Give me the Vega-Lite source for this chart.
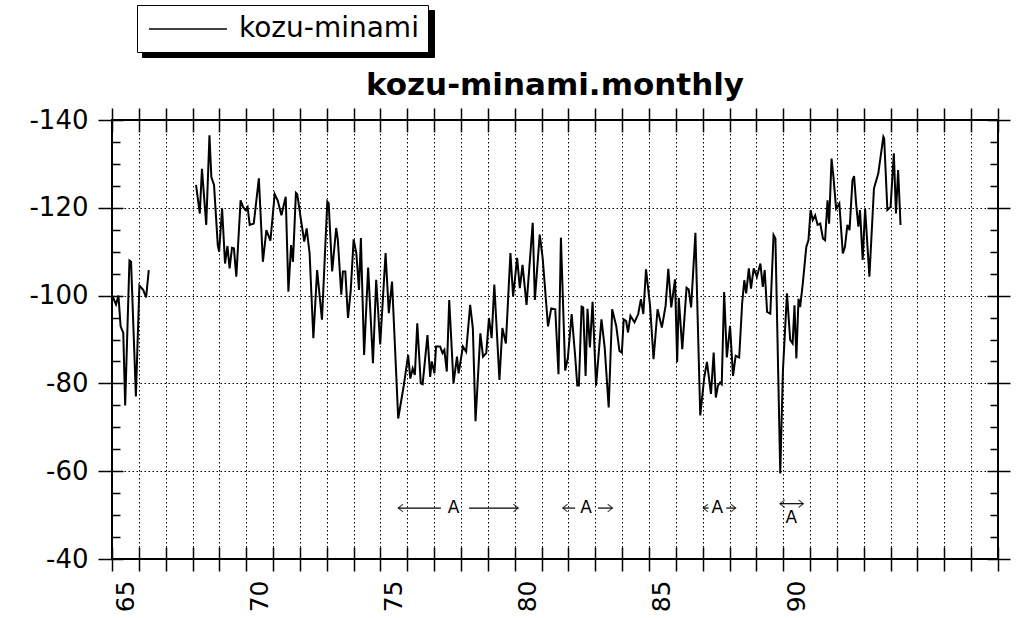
{
  "$schema": "https://vega.github.io/schema/vega-lite/v6.json",
  "width": 886,
  "height": 439,
  "autosize": {"type": "none"},
  "padding": {"left": 112, "top": 120, "right": 18, "bottom": 59},
  "background": "white",
  "title": {"text": "kozu-minami.monthly", "anchor": "middle", "font": "DejaVu Sans", "fontSize": 31, "fontWeight": "bold", "color": "black", "offset": 6, "dy": 103},
  "config": {
    "view": {"stroke": "black", "strokeWidth": 2},
    "axis": {"tickColor": "black", "tickWidth": 1.5, "domain": false, "title": null, "labelColor": "black", "gridColor": "black", "gridOpacity": 1, "gridWidth": 1, "gridDash": [1.5, 2.5]}
  },
  "datasets": {
    "series": [
      {"t": 1965.01, "v": -100.0, "seg": 1}, {"t": 1965.15, "v": -98.0, "seg": 1}, {"t": 1965.24, "v": -100.0, "seg": 1},
      {"t": 1965.32, "v": -93.0, "seg": 1}, {"t": 1965.42, "v": -91.5, "seg": 1}, {"t": 1965.49, "v": -75.0, "seg": 1},
      {"t": 1965.65, "v": -108.0, "seg": 1}, {"t": 1965.71, "v": -107.7, "seg": 1}, {"t": 1965.89, "v": -77.0, "seg": 1},
      {"t": 1966.02, "v": -102.3, "seg": 1}, {"t": 1966.16, "v": -101.3, "seg": 1}, {"t": 1966.27, "v": -99.6, "seg": 1},
      {"t": 1966.37, "v": -105.8, "seg": 1},
      {"t": 1968.13, "v": -125.2, "seg": 2}, {"t": 1968.27, "v": -118.7, "seg": 2}, {"t": 1968.35, "v": -128.9, "seg": 2},
      {"t": 1968.51, "v": -116.1, "seg": 2}, {"t": 1968.63, "v": -136.5, "seg": 2}, {"t": 1968.70, "v": -127.0, "seg": 2},
      {"t": 1968.80, "v": -125.2, "seg": 2}, {"t": 1968.94, "v": -111.5, "seg": 2}, {"t": 1968.99, "v": -110.0, "seg": 2},
      {"t": 1969.10, "v": -119.9, "seg": 2}, {"t": 1969.21, "v": -107.3, "seg": 2}, {"t": 1969.30, "v": -111.3, "seg": 2},
      {"t": 1969.38, "v": -106.2, "seg": 2}, {"t": 1969.47, "v": -110.9, "seg": 2}, {"t": 1969.54, "v": -110.8, "seg": 2},
      {"t": 1969.63, "v": -104.3, "seg": 2}, {"t": 1969.79, "v": -121.7, "seg": 2}, {"t": 1969.88, "v": -120.2, "seg": 2},
      {"t": 1969.97, "v": -119.5, "seg": 2}, {"t": 1970.05, "v": -120.2, "seg": 2}, {"t": 1970.13, "v": -116.1, "seg": 2},
      {"t": 1970.28, "v": -116.4, "seg": 2}, {"t": 1970.47, "v": -126.7, "seg": 2}, {"t": 1970.62, "v": -107.7, "seg": 2},
      {"t": 1970.75, "v": -114.9, "seg": 2}, {"t": 1970.90, "v": -112.5, "seg": 2}, {"t": 1971.06, "v": -123.1, "seg": 2},
      {"t": 1971.17, "v": -121.7, "seg": 2}, {"t": 1971.31, "v": -118.3, "seg": 2}, {"t": 1971.47, "v": -122.5, "seg": 2},
      {"t": 1971.57, "v": -100.9, "seg": 2}, {"t": 1971.67, "v": -111.5, "seg": 2}, {"t": 1971.74, "v": -107.7, "seg": 2},
      {"t": 1971.85, "v": -123.4, "seg": 2}, {"t": 1971.90, "v": -123.1, "seg": 2}, {"t": 1972.04, "v": -117.2, "seg": 2},
      {"t": 1972.16, "v": -112.3, "seg": 2}, {"t": 1972.25, "v": -115.3, "seg": 2}, {"t": 1972.36, "v": -109.6, "seg": 2},
      {"t": 1972.50, "v": -90.3, "seg": 2}, {"t": 1972.64, "v": -105.8, "seg": 2}, {"t": 1972.82, "v": -94.5, "seg": 2},
      {"t": 1973.02, "v": -121.4, "seg": 2}, {"t": 1973.07, "v": -121.0, "seg": 2}, {"t": 1973.20, "v": -105.5, "seg": 2},
      {"t": 1973.35, "v": -115.4, "seg": 2}, {"t": 1973.41, "v": -112.8, "seg": 2}, {"t": 1973.54, "v": -100.2, "seg": 2},
      {"t": 1973.60, "v": -105.5, "seg": 2}, {"t": 1973.69, "v": -105.5, "seg": 2}, {"t": 1973.79, "v": -94.9, "seg": 2},
      {"t": 1973.89, "v": -101.0, "seg": 2}, {"t": 1974.00, "v": -112.8, "seg": 2}, {"t": 1974.10, "v": -109.7, "seg": 2},
      {"t": 1974.20, "v": -101.3, "seg": 2}, {"t": 1974.27, "v": -113.1, "seg": 2}, {"t": 1974.39, "v": -86.5, "seg": 2},
      {"t": 1974.54, "v": -106.4, "seg": 2}, {"t": 1974.72, "v": -84.6, "seg": 2}, {"t": 1974.84, "v": -103.6, "seg": 2},
      {"t": 1974.99, "v": -88.9, "seg": 2}, {"t": 1975.19, "v": -109.7, "seg": 2}, {"t": 1975.31, "v": -96.0, "seg": 2},
      {"t": 1975.43, "v": -103.2, "seg": 2}, {"t": 1975.66, "v": -72.0, "seg": 2}, {"t": 1975.87, "v": -79.6, "seg": 2},
      {"t": 1976.03, "v": -86.5, "seg": 2}, {"t": 1976.11, "v": -81.1, "seg": 2}, {"t": 1976.20, "v": -83.4, "seg": 2},
      {"t": 1976.28, "v": -81.9, "seg": 2}, {"t": 1976.37, "v": -93.7, "seg": 2}, {"t": 1976.50, "v": -80.0, "seg": 2},
      {"t": 1976.57, "v": -79.8, "seg": 2}, {"t": 1976.75, "v": -91.0, "seg": 2}, {"t": 1976.85, "v": -81.5, "seg": 2},
      {"t": 1976.91, "v": -85.0, "seg": 2}, {"t": 1977.01, "v": -82.3, "seg": 2}, {"t": 1977.07, "v": -88.4, "seg": 2},
      {"t": 1977.22, "v": -88.4, "seg": 2}, {"t": 1977.31, "v": -86.9, "seg": 2}, {"t": 1977.38, "v": -87.6, "seg": 2},
      {"t": 1977.47, "v": -82.7, "seg": 2}, {"t": 1977.56, "v": -99.0, "seg": 2}, {"t": 1977.72, "v": -80.0, "seg": 2},
      {"t": 1977.85, "v": -86.1, "seg": 2}, {"t": 1977.91, "v": -82.3, "seg": 2}, {"t": 1978.07, "v": -88.4, "seg": 2},
      {"t": 1978.19, "v": -87.2, "seg": 2}, {"t": 1978.34, "v": -97.9, "seg": 2}, {"t": 1978.44, "v": -92.6, "seg": 2},
      {"t": 1978.54, "v": -71.4, "seg": 2}, {"t": 1978.72, "v": -91.4, "seg": 2}, {"t": 1978.82, "v": -86.1, "seg": 2},
      {"t": 1978.94, "v": -86.9, "seg": 2}, {"t": 1979.04, "v": -94.9, "seg": 2}, {"t": 1979.14, "v": -90.3, "seg": 2},
      {"t": 1979.24, "v": -102.5, "seg": 2}, {"t": 1979.43, "v": -80.8, "seg": 2}, {"t": 1979.54, "v": -92.6, "seg": 2},
      {"t": 1979.67, "v": -89.1, "seg": 2}, {"t": 1979.84, "v": -109.7, "seg": 2}, {"t": 1979.94, "v": -99.8, "seg": 2},
      {"t": 1980.09, "v": -108.6, "seg": 2}, {"t": 1980.19, "v": -101.7, "seg": 2}, {"t": 1980.29, "v": -107.0, "seg": 2},
      {"t": 1980.44, "v": -97.9, "seg": 2}, {"t": 1980.67, "v": -116.6, "seg": 2}, {"t": 1980.75, "v": -99.0, "seg": 2},
      {"t": 1980.93, "v": -113.9, "seg": 2}, {"t": 1981.04, "v": -108.6, "seg": 2}, {"t": 1981.24, "v": -93.0, "seg": 2},
      {"t": 1981.36, "v": -97.1, "seg": 2}, {"t": 1981.51, "v": -96.9, "seg": 2}, {"t": 1981.63, "v": -82.1, "seg": 2},
      {"t": 1981.72, "v": -113.2, "seg": 2}, {"t": 1981.88, "v": -82.9, "seg": 2}, {"t": 1981.98, "v": -85.9, "seg": 2},
      {"t": 1982.12, "v": -95.8, "seg": 2}, {"t": 1982.25, "v": -86.3, "seg": 2}, {"t": 1982.33, "v": -79.5, "seg": 2},
      {"t": 1982.39, "v": -79.5, "seg": 2}, {"t": 1982.49, "v": -97.5, "seg": 2}, {"t": 1982.55, "v": -97.3, "seg": 2},
      {"t": 1982.64, "v": -81.7, "seg": 2}, {"t": 1982.71, "v": -97.0, "seg": 2}, {"t": 1982.80, "v": -88.2, "seg": 2},
      {"t": 1982.90, "v": -98.6, "seg": 2}, {"t": 1983.03, "v": -79.5, "seg": 2}, {"t": 1983.23, "v": -94.6, "seg": 2},
      {"t": 1983.35, "v": -88.2, "seg": 2}, {"t": 1983.50, "v": -74.5, "seg": 2}, {"t": 1983.63, "v": -96.9, "seg": 2},
      {"t": 1983.78, "v": -93.1, "seg": 2}, {"t": 1983.90, "v": -87.4, "seg": 2}, {"t": 1983.99, "v": -87.0, "seg": 2},
      {"t": 1984.06, "v": -94.6, "seg": 2}, {"t": 1984.15, "v": -94.2, "seg": 2}, {"t": 1984.22, "v": -91.6, "seg": 2},
      {"t": 1984.31, "v": -95.4, "seg": 2}, {"t": 1984.46, "v": -93.9, "seg": 2}, {"t": 1984.60, "v": -95.8, "seg": 2},
      {"t": 1984.70, "v": -99.2, "seg": 2}, {"t": 1984.79, "v": -95.8, "seg": 2}, {"t": 1984.89, "v": -106.0, "seg": 2},
      {"t": 1985.04, "v": -97.7, "seg": 2}, {"t": 1985.17, "v": -85.5, "seg": 2}, {"t": 1985.32, "v": -96.9, "seg": 2},
      {"t": 1985.48, "v": -92.7, "seg": 2}, {"t": 1985.62, "v": -97.7, "seg": 2}, {"t": 1985.72, "v": -106.1, "seg": 2},
      {"t": 1985.83, "v": -97.3, "seg": 2}, {"t": 1985.97, "v": -103.7, "seg": 2}, {"t": 1986.05, "v": -84.8, "seg": 2},
      {"t": 1986.11, "v": -99.5, "seg": 2}, {"t": 1986.24, "v": -87.8, "seg": 2}, {"t": 1986.40, "v": -101.8, "seg": 2},
      {"t": 1986.48, "v": -101.4, "seg": 2}, {"t": 1986.57, "v": -97.3, "seg": 2}, {"t": 1986.73, "v": -114.3, "seg": 2},
      {"t": 1986.91, "v": -72.7, "seg": 2}, {"t": 1987.06, "v": -81.4, "seg": 2}, {"t": 1987.16, "v": -84.9, "seg": 2},
      {"t": 1987.31, "v": -77.6, "seg": 2}, {"t": 1987.41, "v": -87.0, "seg": 2}, {"t": 1987.49, "v": -76.8, "seg": 2},
      {"t": 1987.57, "v": -79.5, "seg": 2}, {"t": 1987.65, "v": -80.2, "seg": 2}, {"t": 1987.71, "v": -79.8, "seg": 2},
      {"t": 1987.80, "v": -100.8, "seg": 2}, {"t": 1987.90, "v": -85.9, "seg": 2}, {"t": 1988.02, "v": -93.1, "seg": 2},
      {"t": 1988.13, "v": -81.7, "seg": 2}, {"t": 1988.23, "v": -86.3, "seg": 2}, {"t": 1988.36, "v": -85.9, "seg": 2},
      {"t": 1988.47, "v": -98.2, "seg": 2}, {"t": 1988.55, "v": -103.5, "seg": 2}, {"t": 1988.62, "v": -100.5, "seg": 2},
      {"t": 1988.72, "v": -106.2, "seg": 2}, {"t": 1988.80, "v": -101.6, "seg": 2}, {"t": 1988.90, "v": -106.2, "seg": 2},
      {"t": 1989.02, "v": -104.3, "seg": 2}, {"t": 1989.15, "v": -107.3, "seg": 2}, {"t": 1989.24, "v": -102.0, "seg": 2},
      {"t": 1989.31, "v": -105.8, "seg": 2}, {"t": 1989.40, "v": -96.3, "seg": 2}, {"t": 1989.52, "v": -95.9, "seg": 2},
      {"t": 1989.64, "v": -113.8, "seg": 2}, {"t": 1989.71, "v": -113.0, "seg": 2}, {"t": 1989.89, "v": -59.5, "seg": 2},
      {"t": 1989.99, "v": -83.0, "seg": 2}, {"t": 1990.14, "v": -100.5, "seg": 2}, {"t": 1990.26, "v": -89.9, "seg": 2},
      {"t": 1990.35, "v": -89.1, "seg": 2}, {"t": 1990.42, "v": -97.8, "seg": 2}, {"t": 1990.49, "v": -85.7, "seg": 2},
      {"t": 1990.57, "v": -99.3, "seg": 2}, {"t": 1990.63, "v": -97.4, "seg": 2}, {"t": 1990.73, "v": -102.8, "seg": 2},
      {"t": 1990.86, "v": -111.1, "seg": 2}, {"t": 1990.94, "v": -112.6, "seg": 2}, {"t": 1991.02, "v": -119.5, "seg": 2},
      {"t": 1991.10, "v": -117.2, "seg": 2}, {"t": 1991.19, "v": -118.3, "seg": 2}, {"t": 1991.28, "v": -116.1, "seg": 2},
      {"t": 1991.38, "v": -116.4, "seg": 2}, {"t": 1991.48, "v": -113.0, "seg": 2}, {"t": 1991.56, "v": -112.6, "seg": 2},
      {"t": 1991.65, "v": -121.7, "seg": 2}, {"t": 1991.71, "v": -116.4, "seg": 2}, {"t": 1991.80, "v": -131.2, "seg": 2},
      {"t": 1991.87, "v": -127.1, "seg": 2}, {"t": 1991.97, "v": -119.8, "seg": 2}, {"t": 1992.09, "v": -121.0, "seg": 2},
      {"t": 1992.22, "v": -109.6, "seg": 2}, {"t": 1992.30, "v": -111.1, "seg": 2}, {"t": 1992.39, "v": -116.1, "seg": 2},
      {"t": 1992.47, "v": -114.9, "seg": 2}, {"t": 1992.58, "v": -126.3, "seg": 2}, {"t": 1992.64, "v": -127.2, "seg": 2},
      {"t": 1992.72, "v": -120.6, "seg": 2}, {"t": 1992.80, "v": -115.7, "seg": 2}, {"t": 1992.86, "v": -119.5, "seg": 2},
      {"t": 1992.96, "v": -108.1, "seg": 2}, {"t": 1993.05, "v": -119.8, "seg": 2}, {"t": 1993.21, "v": -104.3, "seg": 2},
      {"t": 1993.38, "v": -124.4, "seg": 2}, {"t": 1993.54, "v": -127.8, "seg": 2}, {"t": 1993.73, "v": -136.2, "seg": 2},
      {"t": 1993.76, "v": -135.8, "seg": 2}, {"t": 1993.88, "v": -119.5, "seg": 2}, {"t": 1994.00, "v": -120.2, "seg": 2},
      {"t": 1994.12, "v": -132.4, "seg": 2}, {"t": 1994.20, "v": -118.7, "seg": 2}, {"t": 1994.28, "v": -128.6, "seg": 2},
      {"t": 1994.37, "v": -116.1, "seg": 2}
    ],
    "shafts": [
      {"x1": 1975.66, "x2": 1977.25, "y": -51.6},
      {"x1": 1978.3, "x2": 1980.13, "y": -51.6},
      {"x1": 1981.79, "x2": 1982.25, "y": -51.6},
      {"x1": 1983.1, "x2": 1983.64, "y": -51.6},
      {"x1": 1987.02, "x2": 1987.22, "y": -51.6},
      {"x1": 1987.88, "x2": 1988.23, "y": -51.6},
      {"x1": 1989.88, "x2": 1990.75, "y": -52.6}
    ],
    "heads": [
      {"x": 1975.66, "y": -51.6, "dir": "left"}, {"x": 1980.13, "y": -51.6, "dir": "right"},
      {"x": 1981.79, "y": -51.6, "dir": "left"}, {"x": 1983.64, "y": -51.6, "dir": "right"},
      {"x": 1987.02, "y": -51.6, "dir": "left"}, {"x": 1988.23, "y": -51.6, "dir": "right"},
      {"x": 1989.88, "y": -52.6, "dir": "left"}, {"x": 1990.75, "y": -52.6, "dir": "right"}
    ],
    "marks": [
      {"x": 1977.72, "y": -51.6, "label": "A"},
      {"x": 1982.66, "y": -51.6, "label": "A"},
      {"x": 1987.55, "y": -51.6, "label": "A"},
      {"x": 1990.3, "y": -49.4, "label": "A"}
    ]
  },
  "resolve": {"axis": {"x": "independent", "y": "independent"}},
  "layer": [
    {
      "data": {"name": "series"},
      "mark": {"type": "line", "strokeWidth": 2, "interpolate": "linear"},
      "encoding": {
        "x": {"field": "t", "type": "quantitative",
          "scale": {"domain": [1965, 1998], "nice": false, "zero": false},
          "axis": {"orient": "bottom", "values": [1965,1966,1967,1968,1969,1970,1971,1972,1973,1974,1975,1976,1977,1978,1979,1980,1981,1982,1983,1984,1985,1986,1987,1988,1989,1990,1991,1992,1993,1994,1995,1996,1997,1998],
            "grid": true, "tickSize": 12, "labelAngle": -90, "labelOffset": 13, "labelPadding": 9,
            "labelExpr": "(datum.value % 5 == 0 && datum.value <= 1990) ? format(datum.value % 100, 'd') : ''",
            "labelFontSize": 25, "labelFont": "DejaVu Sans", "labelFlush": false, "labelOverlap": false, "labelBound": false}},
        "y": {"field": "v", "type": "quantitative",
          "scale": {"domain": [-140, -40], "reverse": true, "nice": false, "zero": false},
          "axis": {"orient": "left", "values": [-140, -120, -100, -80, -60, -40], "grid": true, "tickSize": 14, "labelPadding": 10,
            "labelExpr": "'' + datum.value", "labelFontSize": 26, "labelFont": "DejaVu Sans", "labelFlush": false, "labelOverlap": false}},
        "detail": {"field": "seg", "type": "nominal"},
        "stroke": {"datum": "kozu-minami", "type": "nominal", "scale": {"range": ["black"]},
          "legend": {"orient": "none", "legendX": 25, "legendY": -115, "title": null, "symbolType": "M-0.86,0L4.71,0", "symbolSize": 784,
            "symbolStrokeWidth": 1.3, "symbolStrokeColor": "black", "labelFontSize": 28, "labelFont": "DejaVu Sans", "labelColor": "black", "labelLimit": 400,
            "fillColor": "white", "strokeColor": "black", "padding": 9, "labelOffset": 63, "zindex": 2}}
      }
    },
    {
      "data": {"name": "series"},
      "mark": {"type": "line", "opacity": 0},
      "encoding": {
        "x": {"field": "t", "type": "quantitative",
          "axis": {"orient": "bottom", "offset": -12, "tickSize": 12, "labels": false, "grid": false,
            "values": [1965,1966,1967,1968,1969,1970,1971,1972,1973,1974,1975,1976,1977,1978,1979,1980,1981,1982,1983,1984,1985,1986,1987,1988,1989,1990,1991,1992,1993,1994,1995,1996,1997,1998]}},
        "y": {"field": "v", "type": "quantitative",
          "axis": {"orient": "left", "offset": -11, "tickSize": 11, "labels": false, "grid": false, "values": [-140, -120, -100, -80, -60, -40]}},
        "detail": {"field": "seg", "type": "nominal"}
      }
    },
    {
      "data": {"name": "series"},
      "mark": {"type": "line", "opacity": 0},
      "encoding": {
        "x": {"field": "t", "type": "quantitative",
          "axis": {"orient": "top", "tickSize": 12, "labels": false, "grid": false,
            "values": [1965,1966,1967,1968,1969,1970,1971,1972,1973,1974,1975,1976,1977,1978,1979,1980,1981,1982,1983,1984,1985,1986,1987,1988,1989,1990,1991,1992,1993,1994,1995,1996,1997,1998]}},
        "y": {"field": "v", "type": "quantitative",
          "axis": {"orient": "right", "tickSize": 12, "labels": false, "grid": false, "values": [-140, -120, -100, -80, -60, -40]}},
        "detail": {"field": "seg", "type": "nominal"}
      }
    },
    {
      "data": {"name": "series"},
      "mark": {"type": "line", "opacity": 0},
      "encoding": {
        "x": {"field": "t", "type": "quantitative",
          "axis": {"orient": "top", "offset": -12, "tickSize": 12, "labels": false, "grid": false,
            "values": [1965,1966,1967,1968,1969,1970,1971,1972,1973,1974,1975,1976,1977,1978,1979,1980,1981,1982,1983,1984,1985,1986,1987,1988,1989,1990,1991,1992,1993,1994,1995,1996,1997,1998]}},
        "y": {"field": "v", "type": "quantitative",
          "axis": {"orient": "right", "offset": -11, "tickSize": 11, "labels": false, "grid": false, "values": [-140, -120, -100, -80, -60, -40]}},
        "detail": {"field": "seg", "type": "nominal"}
      }
    },
    {
      "data": {"name": "series"},
      "mark": {"type": "line", "opacity": 0},
      "encoding": {
        "x": {"field": "t", "type": "quantitative", "axis": null},
        "y": {"field": "v", "type": "quantitative",
          "axis": {"orient": "left", "offset": -8, "tickSize": 8, "labels": false, "grid": false,
            "values": [-135, -130, -125, -115, -110, -105, -95, -90, -85, -75, -70, -65, -55, -50, -45]}},
        "detail": {"field": "seg", "type": "nominal"}
      }
    },
    {
      "data": {"name": "series"},
      "mark": {"type": "line", "opacity": 0},
      "encoding": {
        "x": {"field": "t", "type": "quantitative", "axis": null},
        "y": {"field": "v", "type": "quantitative",
          "axis": {"orient": "right", "offset": -8, "tickSize": 8, "labels": false, "grid": false,
            "values": [-135, -130, -125, -115, -110, -105, -95, -90, -85, -75, -70, -65, -55, -50, -45]}},
        "detail": {"field": "seg", "type": "nominal"},
        "strokeDash": {"datum": "shadow", "type": "nominal",
          "legend": {"orient": "none", "legendX": 30, "legendY": -110, "title": null, "symbolType": "M-0.86,0L4.71,0", "symbolSize": 784,
            "symbolStrokeColor": "black", "labelExpr": "'\u00a0'", "labelFontSize": 28, "labelFont": "DejaVu Sans", "labelColor": "black", "labelLimit": 400,
            "fillColor": "black", "strokeColor": "black", "padding": 9, "labelOffset": 244, "zindex": 1}}
      }
    },
    {
      "data": {"name": "shafts"},
      "mark": {"type": "rule", "strokeWidth": 1.2, "color": "black"},
      "encoding": {
        "x": {"field": "x1", "type": "quantitative", "axis": null},
        "x2": {"field": "x2"},
        "y": {"field": "y", "type": "quantitative", "axis": null}
      }
    },
    {
      "data": {"name": "heads"},
      "mark": {"type": "point", "filled": false, "stroke": "black", "strokeWidth": 1.2, "size": 90},
      "encoding": {
        "x": {"field": "x", "type": "quantitative", "axis": null},
        "y": {"field": "y", "type": "quantitative", "axis": null},
        "shape": {"field": "dir", "type": "nominal", "legend": null,
          "scale": {"domain": ["left", "right"], "range": ["M1,-0.8L0,0L1,0.8", "M-1,-0.8L0,0L-1,0.8"]}}
      }
    },
    {
      "data": {"name": "marks"},
      "mark": {"type": "text", "font": "DejaVu Sans", "fontSize": 17, "color": "black", "baseline": "middle", "align": "center"},
      "encoding": {
        "x": {"field": "x", "type": "quantitative", "axis": null},
        "y": {"field": "y", "type": "quantitative", "axis": null},
        "text": {"field": "label"}
      }
    }
  ]
}
